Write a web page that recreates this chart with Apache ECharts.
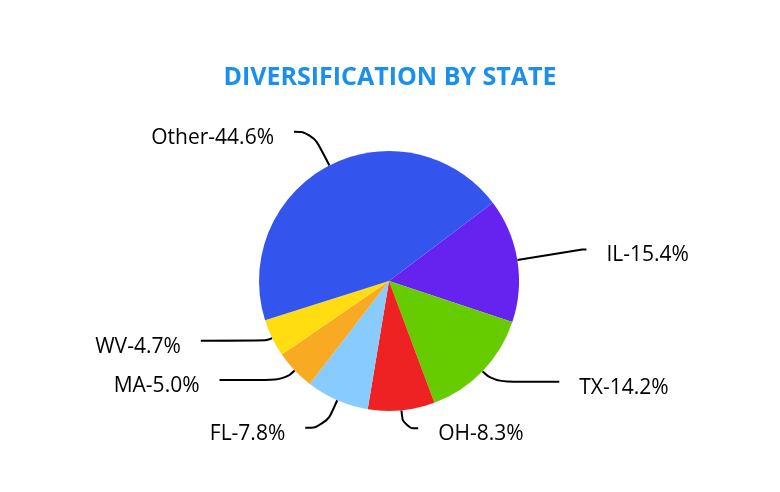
<!DOCTYPE html>
<html><head><meta charset="utf-8">
<script src="https://cdn.jsdelivr.net/npm/echarts@6/dist/echarts.min.js"></script>
<style>html,body{margin:0;padding:0;background:#fff}#c{width:780px;height:492px}</style>
</head><body><div id="c"></div>
<script>
const categories = ['IL','TX','OH','FL','MA','WV','Other'];
const values = [15.4, 14.2, 8.3, 7.8, 5.0, 4.7, 44.6];
const colors = ['#6622EE','#66CC00','#EE2222','#88CCFF','#F8AA22','#FFDD11','#3355EE'];
const lineLen = [66, 15, 18, 30, 14, 6, 38];
const lineLen2 = [4, 66, 15, 20, 65, 66, 18];

const chart = echarts.init(document.getElementById('c'));
chart.setOption({
  animation: false,
  title: {
    text: 'DIVERSIFICATION BY STATE', left: 'center', top: 60,
    textStyle: {fontFamily: 'Open Sans', fontWeight: 'bold', fontSize: 25, color: '#1A90EC'}
  },
  series: [{
    type: 'pie',
    center: [389, 281], radius: 130,
    startAngle: 37, clockwise: true,
    avoidLabelOverlap: false,
    data: categories.map((c, i) => ({
      name: c, value: values[i], itemStyle: {color: colors[i]},
      labelLine: {length: lineLen[i], length2: lineLen2[i]}
    })),
    label: {
      formatter: p => p.name + '-' + p.value.toFixed(1) + '%',
      fontFamily: 'Open Sans', fontSize: 21, color: '#000',
      distanceToLabelLine: 20,
      offset: [0, 6]
    },
    labelLine: {smooth: 0.5, lineStyle: {color: '#000', width: 2}},
    itemStyle: {borderWidth: 0}
  }]
});
</script></body></html>
